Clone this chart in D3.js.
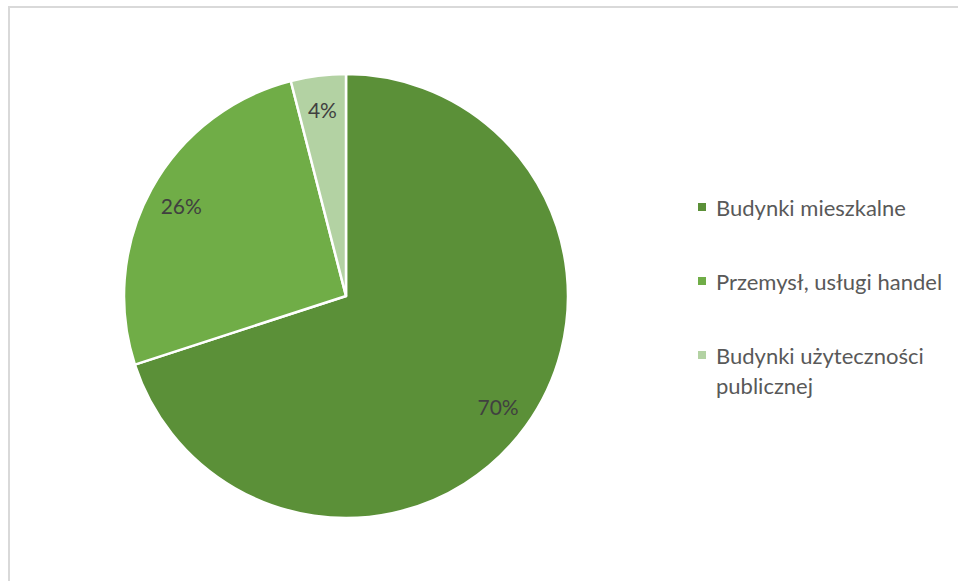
<!DOCTYPE html>
<html><head><meta charset="utf-8">
<script src="https://cdn.jsdelivr.net/npm/d3@7"></script>
<style>html,body{margin:0;padding:0;background:#fff;}svg{display:block;}</style>
</head><body>
<svg id="c" width="958" height="581"></svg>
<script>
const categories = ["Budynki mieszkalne", "Przemysł, usługi handel", "Budynki użyteczności publicznej"];
const values = [70, 26, 4];
const labels = ["70%", "26%", "4%"];
const colors = ["#5B9038", "#70AD47", "#B3D2A3"];
const legendLines = [["Budynki mieszkalne"], ["Przemysł, usługi handel"], ["Budynki użyteczności", "publicznej"]];

const svg = d3.select("#c");
const font = "Lato, 'Open Sans', sans-serif";

// frame
svg.append("rect").attr("x", 9).attr("y", 7).attr("width", 960).attr("height", 590)
  .attr("fill", "#fff").attr("stroke", "#d9d9d9").attr("stroke-width", 2);

const cx = 346, cy = 296, R = 222;
const g = svg.append("g").attr("transform", `translate(${cx},${cy})`);
const pie = d3.pie().sort(null).value(d => d);
const arcs = pie(values);
const arc = d3.arc().innerRadius(0).outerRadius(R);
const labelArc = d3.arc().innerRadius(188).outerRadius(188);

g.selectAll("path").data(arcs).enter().append("path")
  .attr("d", arc).attr("fill", (d, i) => colors[i])
  .attr("stroke", "#fff").attr("stroke-width", 2.5).attr("stroke-linejoin", "round");

g.selectAll("text").data(arcs).enter().append("text")
  .attr("transform", d => `translate(${labelArc.centroid(d)})`)
  .attr("text-anchor", "middle").attr("dominant-baseline", "central")
  .attr("font-family", font).attr("font-size", 21).attr("fill", "#404040")
  .text((d, i) => labels[i]);

// legend
const legendY = d3.scalePoint().domain(d3.range(categories.length)).range([207, 355]);
const lg = svg.append("g");
categories.forEach((c, i) => {
  const y = legendY(i);
  lg.append("rect").attr("x", 698).attr("y", y - 4).attr("width", 8).attr("height", 8).attr("fill", colors[i]);
  const t = lg.append("text").attr("x", 716).attr("y", y)
    .attr("dominant-baseline", "central")
    .attr("font-family", font).attr("font-size", 22).attr("fill", "#595959");
  legendLines[i].forEach((ln, j) => {
    t.append("tspan").attr("x", 716).attr("dy", j === 0 ? 0 : 30).text(ln);
  });
});
</script>
</body></html>
